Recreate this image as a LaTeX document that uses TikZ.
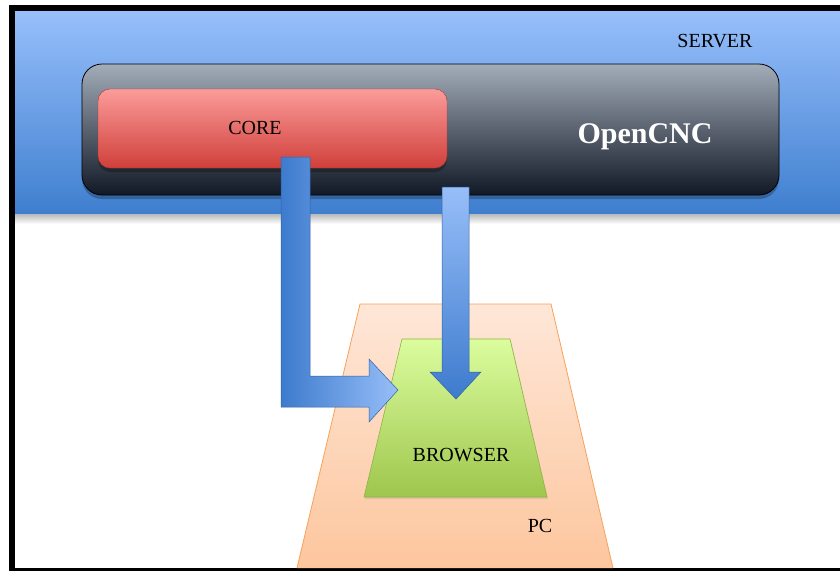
\documentclass[tikz,border=0pt]{standalone}
\usepackage{fontspec}
\setmainfont{Liberation Serif}
\usetikzlibrary{shadows}

\definecolor{serverlight}{HTML}{97BFFB}
\definecolor{serverdark}{HTML}{3F7FCF}
\definecolor{cnclight}{HTML}{A3ACB9}
\definecolor{cncdark}{HTML}{111826}
\definecolor{corelight}{HTML}{FB9C9A}
\definecolor{coredark}{HTML}{D03F3A}
\definecolor{pclight}{HTML}{FEE7D8}
\definecolor{pcdark}{HTML}{FDC69E}
\definecolor{pcedge}{HTML}{F6A25A}
\definecolor{browserlight}{HTML}{DBFD9E}
\definecolor{browserdark}{HTML}{9FC64D}
\definecolor{browseredge}{HTML}{8DB443}
\definecolor{arrowlight}{HTML}{97BEF8}
\definecolor{arrowdark}{HTML}{3D7BCD}

\tikzset{
  tag/.style={font=\fontsize{20}{24}\selectfont, text=black, inner sep=0pt},
  softshadow/.style={drop shadow={shadow xshift=0pt, shadow yshift=-4pt, opacity=0.25, fill=black}},
  arrowedge/.style={draw=arrowdark!80!black, line width=0.5pt, line join=miter}
}

\begin{document}
\begin{tikzpicture}[x=1pt, y=-1pt]

    \useasboundingbox (0,0) rectangle (840,571);

    % frame
    \fill [black] (9,5) rectangle (840,571);
    \fill [white] (15,11) rectangle (840,568);

    % server band
    \shade [top color=black!30, bottom color=white] (15,213) rectangle (840,224);
    \node [top color=serverlight, bottom color=serverdark,
           minimum width=825pt, minimum height=202pt, inner sep=0pt] (server) at (427.5,112) {};
    \node [tag] (servertxt) at (715,41) {SERVER};

    \node [softshadow, draw=black, line width=0.8pt, rounded corners=20pt,
           top color=cnclight, bottom color=cncdark,
           minimum width=697pt, minimum height=131pt, inner sep=0pt] (opencnc) at (430.5,129.5) {};
    \node [font=\fontsize{30}{36}\selectfont\bfseries, text=white, inner sep=0pt] (opencnctxt) at (645,137) {OpenCNC};

    \node [softshadow, draw=coredark!85!black, line width=0.4pt, rounded corners=12pt,
           top color=corelight, bottom color=coredark,
           minimum width=349pt, minimum height=79pt, inner sep=0pt] (core) at (272.5,128.5) {};
    \node [tag] (coretxt) at (255,128) {CORE};

    % pc and browser
    \shade [top color=pclight, bottom color=pcdark] (360,304) -- (551,304) -- (613,568) -- (297,568) -- cycle;
    \draw [pcedge, line width=0.8pt] (297,568) -- (360,304) -- (551,304) -- (613,568);
    \node [tag] (pc) at (540,526) {PC};

    \shade [top color=browserlight, bottom color=browserdark, drop shadow={shadow xshift=1pt, shadow yshift=-2pt, opacity=0.2}]
        (402,339) -- (510,339) -- (547,497) -- (364,497) -- cycle;
    \draw [browseredge, line width=0.6pt] (402,339) -- (510,339) -- (547,497) -- (364,497) -- cycle;
    \node [tag] (browser) at (461,455) {BROWSER};

    % arrows
    \shade [left color=arrowdark, right color=arrowlight, arrowedge]
        (281,157) -- (310,157) -- (310,376) -- (369,376) -- (369,359) -- (398,390)
        -- (369,422) -- (369,407) -- (281,407) -- cycle;

    \shade [top color=arrowlight, bottom color=arrowdark, arrowedge]
        (442,187) -- (469,187) -- (469,372) -- (481,372) -- (456,399)
        -- (430,372) -- (442,372) -- cycle;

\end{tikzpicture}
\end{document}
